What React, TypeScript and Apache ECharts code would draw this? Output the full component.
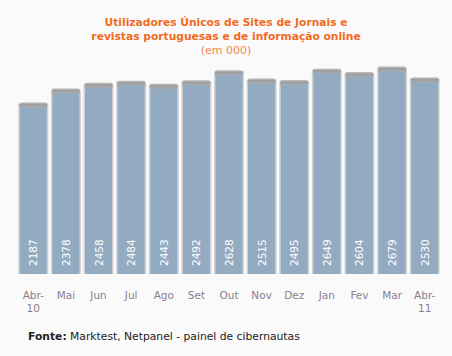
import React, { useEffect, useRef } from "react";
import * as echarts from "echarts";

const months = ["Abr-\n10", "Mai", "Jun", "Jul", "Ago", "Set", "Out", "Nov", "Dez", "Jan", "Fev", "Mar", "Abr-\n11"];
const users = [2187, 2378, 2458, 2484, 2443, 2492, 2628, 2515, 2495, 2649, 2604, 2679, 2530];
const titleLines = ["Utilizadores Únicos de Sites de Jornais e", "revistas portuguesas e de informação online"];
const subtitle = "(em 000)";
const source = "Marktest, Netpanel - painel de cibernautas";

const Y_MIN = -150;
const Y_MAX = 3000;
const FONT = "DejaVu Sans";

export default function App() {
  const ref = useRef<HTMLDivElement>(null);
  useEffect(() => {
    document.body.style.margin = "0";
    const chart = echarts.init(ref.current!, null, { renderer: "svg" });
    chart.setOption({
      animation: false,
      backgroundColor: "#fafafa",
      title: {
        text: titleLines.join("\n"),
        subtext: subtitle,
        left: "center",
        top: 10,
        itemGap: 0,
        textStyle: { color: "#f26a1f", fontSize: 10.7, fontWeight: "bold", fontFamily: FONT, lineHeight: 14 },
        subtextStyle: { color: "#f5874a", fontSize: 11, fontFamily: FONT, lineHeight: 14 },
      },
      grid: { left: 17, right: 11, top: 43, bottom: 82 },
      xAxis: {
        type: "category",
        data: months,
        axisLine: { show: false },
        axisTick: { show: false },
        axisLabel: { color: "#8a7f8e", fontSize: 10.5, fontFamily: FONT, margin: 14, lineHeight: 13, interval: 0 },
      },
      yAxis: { type: "value", min: Y_MIN, max: Y_MAX, show: false, splitLine: { show: false } },
      series: [
        {
          type: "custom",
          data: users.map((v, i) => [i, v]),
          renderItem: (params: any, api: any) => {
            const i = api.value(0);
            const v = api.value(1);
            const top = api.coord([i, v]);
            const bottom = api.coord([i, Y_MIN]);
            const band = api.size([1, 0])[0];
            const w = band - 2.6;
            const x = top[0] - w / 2;
            const y0 = top[1];
            const h = bottom[1] - y0;
            return {
              type: "group",
              children: [
                { type: "rect", shape: { x, y: y0, width: w, height: h, r: [3, 3, 0, 0] }, style: { fill: "#d2d2d2" } },
                { type: "rect", shape: { x: x + 1.5, y: y0 + 1, width: w - 3, height: h - 1 }, style: { fill: "#92abc1" } },
                {
                  type: "rect",
                  shape: { x: x + 1, y: y0, width: w - 2, height: 5, r: [3, 3, 0, 0] },
                  style: {
                    fill: new echarts.graphic.LinearGradient(0, 0, 0, 1, [
                      { offset: 0, color: "#c4c4c4" },
                      { offset: 0.4, color: "#9c9c9c" },
                      { offset: 1, color: "#a9adb2" },
                    ]),
                  },
                },
                {
                  type: "text",
                  x: top[0],
                  y: bottom[1] - 8,
                  rotation: Math.PI / 2,
                  style: { text: String(v), fill: "#ffffff", font: `10.5px "${FONT}"`, align: "left", verticalAlign: "middle" },
                },
              ],
            };
          },
        },
      ],
      graphic: [
        {
          type: "text",
          left: 28,
          top: 331,
          style: {
            text: `{b|Fonte:} ${source}`,
            rich: { b: { fontWeight: "bold", fontSize: 10.75, fontFamily: FONT, fill: "#222" } },
            fill: "#222",
            fontSize: 10.75,
            fontFamily: FONT,
          },
        },
      ],
    });
    return () => chart.dispose();
  }, []);
  return <div ref={ref} style={{ width: 452, height: 356 }} />;
}
